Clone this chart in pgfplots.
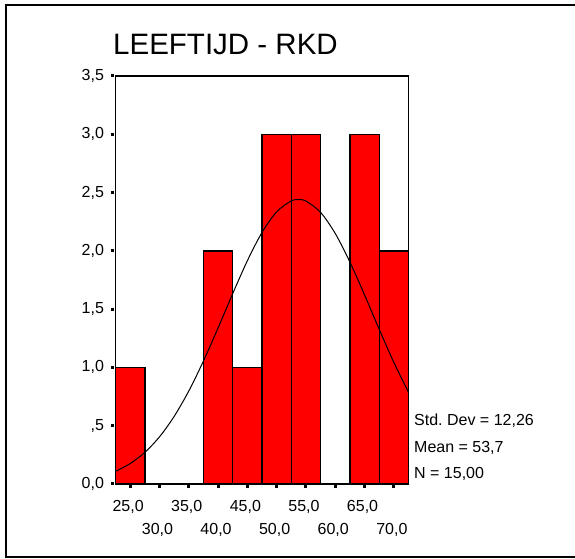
\documentclass[border=0pt]{standalone}
\usepackage{pgfplots}
\pgfplotsset{compat=1.18}
\usepackage{fontspec}
\setmainfont{Liberation Sans}
\frenchspacing

\newcommand{\smallfont}{\fontsize{16bp}{19bp}\selectfont}

\begin{document}
\begin{tikzpicture}
  \path[use as bounding box] (0,0) rectangle (575bp,559bp);
  % frame of the chart area
  \draw[line width=2bp] (576bp,554bp) -- (6bp,554bp) -- (6bp,2bp) -- (576bp,2bp);

  \begin{axis}[
      scale only axis,
      width=293bp, height=408bp,
      at={(115.5bp,75bp)}, anchor=south west,
      xmin=22.5, xmax=72.5,
      ymin=0, ymax=3.5,
      axis line style={line width=1.5bp},
      tick align=outside,
      major tick length=3bp,
      xtick pos=bottom, ytick pos=left,
      xtick={25,35,45,55,65},
      xticklabels={{25,0},{35,0},{45,0},{55,0},{65,0}},
      extra x ticks={30,40,50,60,70},
      extra x tick labels={{30,0},{40,0},{50,0},{60,0},{70,0}},
      extra x tick style={xticklabel style={yshift=-23bp}},
      ytick={0,0.5,1,1.5,2,2.5,3,3.5},
      yticklabels={{0,0},{,5},{1,0},{1,5},{2,0},{2,5},{3,0},{3,5}},
      x tick style={line width=3bp, black, yshift=-1.5bp},
      y tick style={line width=3bp, black, xshift=-1.5bp},
      ticklabel style={font=\smallfont},
      xticklabel style={yshift=-10bp, xshift=-2bp},
      yticklabel style={xshift=-5bp},
      clip=false,
    ]
    \addplot[ybar, bar width=5, fill=red, draw=black, line width=1.4bp] coordinates {
      (25,1) (30,0) (35,0) (40,2) (45,1) (50,3) (55,3) (60,0) (65,3) (70,2)
    };
    % normal curve as seen in the chart
    \addplot[black, line width=1bp, smooth] coordinates {
      (22.5,0.108) (25,0.175) (27.5,0.271) (30,0.404) (32.5,0.579)
      (35,0.797) (37.5,1.054) (40,1.338) (42.5,1.633) (45,1.915)
      (47.5,2.158) (50,2.335) (52.5,2.429) (53.7,2.440) (55,2.427)
      (57.5,2.330) (60,2.149) (62.5,1.904) (65,1.622) (67.5,1.327)
      (70,1.043) (72.5,0.787)
    };
  \end{axis}

  \node[anchor=base west, inner sep=0pt, font=\fontsize{29.5bp}{34bp}\selectfont] at (113bp,504bp) {LEEFTIJD - RKD};
  \node[anchor=base west, inner sep=0pt, font=\smallfont] at (414bp,133bp) {Std. Dev = 12,26};
  \node[anchor=base west, inner sep=0pt, font=\smallfont] at (414bp,106bp) {Mean = 53,7};
  \node[anchor=base west, inner sep=0pt, font=\smallfont] at (414bp,80bp) {N = 15,00};
\end{tikzpicture}
\end{document}
